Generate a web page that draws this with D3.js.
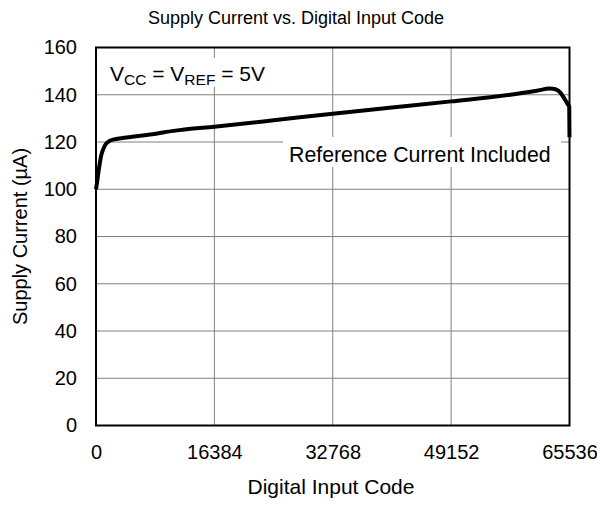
<!DOCTYPE html>
<html><head><meta charset="utf-8">
<script src="https://cdn.jsdelivr.net/npm/d3@7"></script>
<style>body{margin:0;background:#fff}svg{display:block}text{font-family:"Liberation Sans",Arial,sans-serif;fill:#000}</style>
</head><body>
<svg id="c" width="597" height="506"></svg>
<script>
const codes = [0, 150, 300, 500, 700, 1000, 1400, 1900, 2500, 3500, 5000, 7000, 8500, 10000, 12000, 16384, 24576, 32768, 40960, 49152, 57344, 61000, 62800, 63600, 64300, 64900, 65300, 65500, 65536];
const currents = [100, 103, 106.5, 110.5, 114, 117, 119.3, 120.5, 121.1, 121.6, 122.2, 123, 123.6, 124.4, 125.2, 126.5, 129.2, 132, 134.6, 137.2, 140, 141.7, 142.6, 142.3, 140.8, 138, 136, 135, 122];
const xTicks = [0, 16384, 32768, 49152, 65536];
const yTicks = [0, 20, 40, 60, 80, 100, 120, 140, 160];
const title = "Supply Current vs. Digital Input Code";
const xTitle = "Digital Input Code";
const yTitle = "Supply Current (µA)";

const svg = d3.select("#c");
const m = {l: 96, r: 569.5, t: 47.5, b: 425.5};
const x = d3.scaleLinear().domain([0, 65536]).range([m.l, m.r]);
const y = d3.scaleLinear().domain([0, 160]).range([m.b, m.t]);
const FS = 20;

// grid
svg.append("g").selectAll("line").data(xTicks.slice(1, -1)).join("line")
  .attr("x1", d => x(d)).attr("x2", d => x(d)).attr("y1", m.t).attr("y2", m.b)
  .attr("stroke", "#808080").attr("stroke-width", 1);
svg.append("g").selectAll("line").data(yTicks.slice(1, -1)).join("line")
  .attr("x1", m.l).attr("x2", m.r).attr("y1", d => y(d)).attr("y2", d => y(d))
  .attr("stroke", "#808080").attr("stroke-width", 1);

// annotation backgrounds
svg.append("rect").attr("x", 104).attr("y", 58).attr("width", 166).attr("height", 29).attr("fill", "#fff");
svg.append("rect").attr("x", 283).attr("y", 137).attr("width", 278).attr("height", 30).attr("fill", "#fff");

// curve
const pts = codes.map((c, i) => [c, currents[i]]);
svg.append("path").datum(pts)
  .attr("d", d3.line().x(d => x(d[0])).y(d => y(d[1])).curve(d3.curveMonotoneX))
  .attr("fill", "none").attr("stroke", "#000").attr("stroke-width", 4).attr("stroke-linejoin", "round");

// frame
svg.append("rect").attr("x", m.l).attr("y", m.t).attr("width", m.r - m.l).attr("height", m.b - m.t)
  .attr("fill", "none").attr("stroke", "#000").attr("stroke-width", 2);

// axes labels
const xa = svg.append("g").attr("transform", `translate(0,${m.b + 19})`)
  .call(d3.axisBottom(x).tickValues(xTicks).tickSize(0).tickPadding(0).tickFormat(d3.format("d")));
xa.select(".domain").remove();
xa.selectAll("text").attr("font-size", FS).attr("dy", "0.71em").attr("y", 0).style("font-family", "Liberation Sans, Arial, sans-serif");
const ya = svg.append("g").attr("transform", `translate(77,0)`)
  .call(d3.axisLeft(y).tickValues(yTicks).tickSize(0).tickPadding(0).tickFormat(d3.format("d")));
ya.select(".domain").remove();
ya.selectAll("text").attr("font-size", FS).attr("x", 0).style("font-family", "Liberation Sans, Arial, sans-serif");

svg.append("text").attr("x", 296).attr("y", 24).attr("text-anchor", "middle").attr("font-size", 18).text(title);
svg.append("text").attr("x", 331).attr("y", 494).attr("text-anchor", "middle").attr("font-size", 21).text(xTitle);
svg.append("text").attr("transform", `translate(27,${(m.t + m.b) / 2}) rotate(-90)`).attr("text-anchor", "middle").attr("font-size", FS).text(yTitle);

// annotations
const t1 = svg.append("text").attr("x", 110).attr("y", 81).attr("font-size", 21);
t1.append("tspan").text("V");
t1.append("tspan").attr("font-size", 15.5).attr("dy", 4).text("CC");
t1.append("tspan").attr("dy", -4).text(" = V");
t1.append("tspan").attr("font-size", 15.5).attr("dy", 4).text("REF");
t1.append("tspan").attr("dy", -4).text(" = 5V");
svg.append("text").attr("x", 289).attr("y", 162).attr("font-size", 21.3).text("Reference Current Included");
</script>
</body></html>
